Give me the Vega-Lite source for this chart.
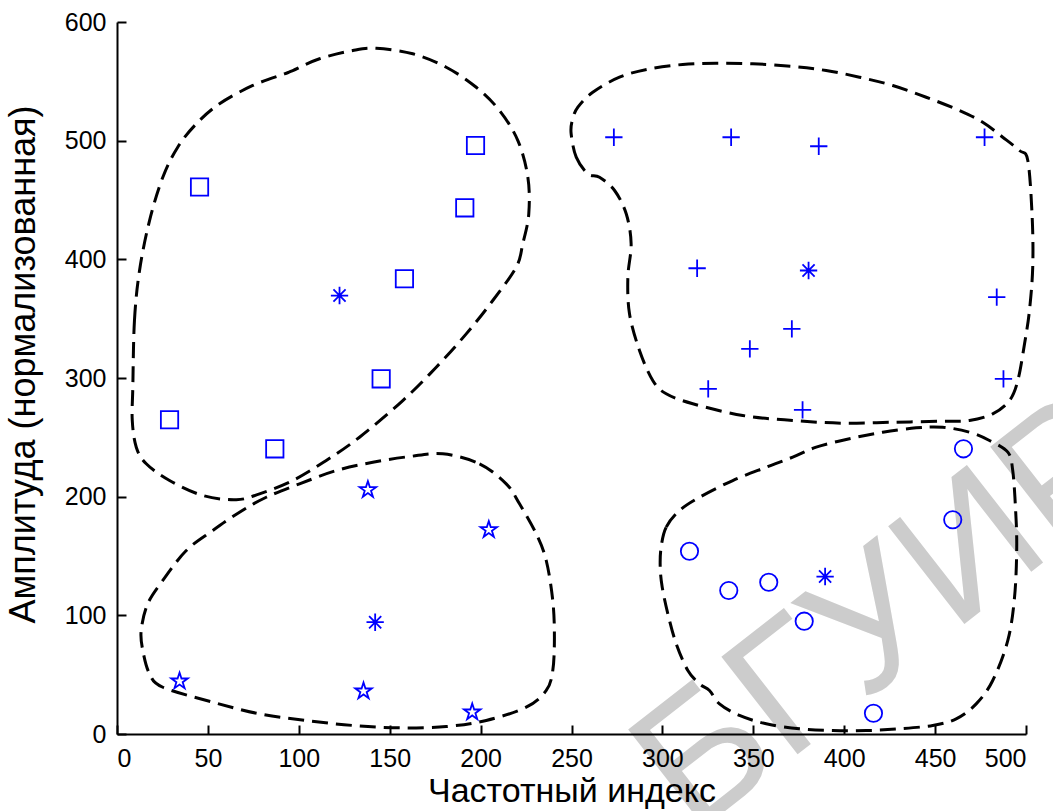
{
  "$schema": "https://vega.github.io/schema/vega-lite/v6.json",
  "autosize": "none",
  "width": 909,
  "height": 712,
  "padding": {"left": 117, "top": 22, "right": 27, "bottom": 77},
  "background": "white",
  "config": {
    "font": "Liberation Sans",
    "view": {"stroke": null},
    "axis": {
      "grid": false,
      "domainColor": "black",
      "domainWidth": 2,
      "tickColor": "black",
      "tickWidth": 2,
      "tickSize": -9,
      "labelColor": "black",
      "labelFontSize": 25,
      "titleColor": "black",
      "titleFontSize": 34,
      "titleFontWeight": "normal"
    }
  },
  "datasets": {
    "points": [
      {"t": "sq", "x": 45.4, "y": 461.0},
      {"t": "sq", "x": 197.2, "y": 495.9},
      {"t": "sq", "x": 191.3, "y": 443.4},
      {"t": "sq", "x": 158.1, "y": 383.6},
      {"t": "sq", "x": 145.3, "y": 299.3},
      {"t": "sq", "x": 28.9, "y": 264.8},
      {"t": "sq", "x": 86.8, "y": 240.3},
      {"t": "c", "x": 122.4, "y": 369.5},
      {"t": "st", "x": 138.0, "y": 205.8},
      {"t": "st", "x": 204.5, "y": 172.1},
      {"t": "st", "x": 34.4, "y": 44.5},
      {"t": "st", "x": 135.6, "y": 36.1},
      {"t": "st", "x": 195.4, "y": 18.4},
      {"t": "c", "x": 142.0, "y": 94.2},
      {"t": "pl", "x": 273.3, "y": 502.9},
      {"t": "pl", "x": 337.8, "y": 502.9},
      {"t": "pl", "x": 386.0, "y": 495.3},
      {"t": "pl", "x": 477.2, "y": 502.9},
      {"t": "pl", "x": 319.1, "y": 392.5},
      {"t": "pl", "x": 483.9, "y": 368.1},
      {"t": "pl", "x": 371.2, "y": 341.4},
      {"t": "pl", "x": 348.1, "y": 324.6},
      {"t": "pl", "x": 325.2, "y": 290.9},
      {"t": "pl", "x": 377.1, "y": 273.2},
      {"t": "pl", "x": 487.6, "y": 299.3},
      {"t": "c", "x": 380.4, "y": 390.6},
      {"t": "ci", "x": 465.6, "y": 240.3},
      {"t": "ci", "x": 459.7, "y": 180.5},
      {"t": "ci", "x": 314.9, "y": 154.0},
      {"t": "ci", "x": 336.5, "y": 120.9},
      {"t": "ci", "x": 358.5, "y": 127.9},
      {"t": "ci", "x": 378.0, "y": 95.1},
      {"t": "ci", "x": 416.1, "y": 17.5},
      {"t": "c", "x": 389.5, "y": 132.7}
    ],
    "contours": [
      {"c": "A", "i": 1, "x": 8.7, "y": 292.2},
      {"c": "A", "i": 2, "x": 9.6, "y": 348.4},
      {"c": "A", "i": 3, "x": 12.4, "y": 390.6},
      {"c": "A", "i": 4, "x": 17.9, "y": 432.7},
      {"c": "A", "i": 5, "x": 25.2, "y": 469.2},
      {"c": "A", "i": 6, "x": 33.4, "y": 494.5},
      {"c": "A", "i": 7, "x": 43.6, "y": 514.2},
      {"c": "A", "i": 8, "x": 56.4, "y": 531.1},
      {"c": "A", "i": 9, "x": 74.7, "y": 546.5},
      {"c": "A", "i": 10, "x": 92.1, "y": 556.3},
      {"c": "A", "i": 11, "x": 96.7, "y": 559.1},
      {"c": "A", "i": 12, "x": 111.4, "y": 569.0},
      {"c": "A", "i": 13, "x": 129.7, "y": 576.0},
      {"c": "A", "i": 14, "x": 142.6, "y": 577.9},
      {"c": "A", "i": 15, "x": 162.7, "y": 573.2},
      {"c": "A", "i": 16, "x": 181.1, "y": 561.9},
      {"c": "A", "i": 17, "x": 197.6, "y": 545.0},
      {"c": "A", "i": 18, "x": 210.4, "y": 525.4},
      {"c": "A", "i": 19, "x": 220.5, "y": 500.1},
      {"c": "A", "i": 20, "x": 226.0, "y": 469.2},
      {"c": "A", "i": 21, "x": 226.5, "y": 438.4},
      {"c": "A", "i": 22, "x": 223.2, "y": 413.1},
      {"c": "A", "i": 23, "x": 219.6, "y": 393.4},
      {"c": "A", "i": 24, "x": 206.7, "y": 365.3},
      {"c": "A", "i": 25, "x": 192.1, "y": 337.2},
      {"c": "A", "i": 26, "x": 175.6, "y": 309.1},
      {"c": "A", "i": 27, "x": 157.2, "y": 281.0},
      {"c": "A", "i": 28, "x": 133.4, "y": 250.1},
      {"c": "A", "i": 29, "x": 115.1, "y": 230.5},
      {"c": "A", "i": 30, "x": 96.7, "y": 213.6},
      {"c": "A", "i": 31, "x": 78.4, "y": 202.4},
      {"c": "A", "i": 32, "x": 65.6, "y": 197.4},
      {"c": "A", "i": 33, "x": 47.2, "y": 201.0},
      {"c": "A", "i": 34, "x": 28.9, "y": 213.6},
      {"c": "A", "i": 35, "x": 16.1, "y": 227.7},
      {"c": "A", "i": 36, "x": 10.6, "y": 241.7},
      {"c": "A", "i": 37, "x": 8.4, "y": 264.2},
      {"c": "B", "i": 1, "x": 179.2, "y": 236.1},
      {"c": "B", "i": 2, "x": 199.4, "y": 227.7},
      {"c": "B", "i": 3, "x": 214.1, "y": 210.8},
      {"c": "B", "i": 4, "x": 221.4, "y": 194.0},
      {"c": "B", "i": 5, "x": 230.6, "y": 168.7},
      {"c": "B", "i": 6, "x": 236.1, "y": 146.2},
      {"c": "B", "i": 7, "x": 239.7, "y": 112.5},
      {"c": "B", "i": 8, "x": 240.6, "y": 81.6},
      {"c": "B", "i": 9, "x": 239.7, "y": 53.5},
      {"c": "B", "i": 10, "x": 236.1, "y": 36.7},
      {"c": "B", "i": 11, "x": 225.1, "y": 22.6},
      {"c": "B", "i": 12, "x": 203.1, "y": 11.4},
      {"c": "B", "i": 13, "x": 181.1, "y": 6.3},
      {"c": "B", "i": 14, "x": 155.4, "y": 5.2},
      {"c": "B", "i": 15, "x": 129.7, "y": 7.2},
      {"c": "B", "i": 16, "x": 104.1, "y": 11.4},
      {"c": "B", "i": 17, "x": 78.4, "y": 17.0},
      {"c": "B", "i": 18, "x": 52.7, "y": 26.8},
      {"c": "B", "i": 19, "x": 25.2, "y": 39.4},
      {"c": "B", "i": 20, "x": 17.9, "y": 50.7},
      {"c": "B", "i": 21, "x": 14.2, "y": 70.4},
      {"c": "B", "i": 22, "x": 13.3, "y": 87.2},
      {"c": "B", "i": 23, "x": 16.9, "y": 109.7},
      {"c": "B", "i": 24, "x": 25.2, "y": 129.4},
      {"c": "B", "i": 25, "x": 38.1, "y": 154.6},
      {"c": "B", "i": 26, "x": 52.7, "y": 171.5},
      {"c": "B", "i": 27, "x": 67.4, "y": 186.9},
      {"c": "B", "i": 28, "x": 82.1, "y": 199.5},
      {"c": "B", "i": 29, "x": 100.4, "y": 210.8},
      {"c": "B", "i": 30, "x": 120.6, "y": 222.0},
      {"c": "B", "i": 31, "x": 140.7, "y": 229.0},
      {"c": "B", "i": 32, "x": 160.9, "y": 233.8},
      {"c": "C", "i": 1, "x": 249.8, "y": 505.8},
      {"c": "C", "i": 2, "x": 252.6, "y": 486.1},
      {"c": "C", "i": 3, "x": 259.0, "y": 472.1},
      {"c": "C", "i": 4, "x": 265.4, "y": 469.2},
      {"c": "C", "i": 5, "x": 273.7, "y": 458.0},
      {"c": "C", "i": 6, "x": 280.1, "y": 438.4},
      {"c": "C", "i": 7, "x": 282.8, "y": 413.1},
      {"c": "C", "i": 8, "x": 281.0, "y": 384.9},
      {"c": "C", "i": 9, "x": 281.9, "y": 354.1},
      {"c": "C", "i": 10, "x": 287.4, "y": 323.2},
      {"c": "C", "i": 11, "x": 294.7, "y": 297.9},
      {"c": "C", "i": 12, "x": 302.1, "y": 286.7},
      {"c": "C", "i": 13, "x": 316.7, "y": 278.3},
      {"c": "C", "i": 14, "x": 344.2, "y": 268.4},
      {"c": "C", "i": 15, "x": 371.7, "y": 264.2},
      {"c": "C", "i": 16, "x": 399.2, "y": 261.9},
      {"c": "C", "i": 17, "x": 426.7, "y": 262.7},
      {"c": "C", "i": 18, "x": 454.2, "y": 263.6},
      {"c": "C", "i": 19, "x": 468.9, "y": 264.2},
      {"c": "C", "i": 20, "x": 481.7, "y": 269.8},
      {"c": "C", "i": 21, "x": 490.9, "y": 281.0},
      {"c": "C", "i": 22, "x": 495.5, "y": 297.9},
      {"c": "C", "i": 23, "x": 499.2, "y": 328.8},
      {"c": "C", "i": 24, "x": 501.9, "y": 356.9},
      {"c": "C", "i": 25, "x": 503.7, "y": 393.4},
      {"c": "C", "i": 26, "x": 503.4, "y": 435.5},
      {"c": "C", "i": 27, "x": 501.0, "y": 483.3},
      {"c": "C", "i": 28, "x": 496.4, "y": 491.7},
      {"c": "C", "i": 29, "x": 487.2, "y": 502.9},
      {"c": "C", "i": 30, "x": 476.2, "y": 515.5},
      {"c": "C", "i": 31, "x": 463.4, "y": 525.4},
      {"c": "C", "i": 32, "x": 445.1, "y": 536.6},
      {"c": "C", "i": 33, "x": 426.7, "y": 546.5},
      {"c": "C", "i": 34, "x": 408.4, "y": 553.5},
      {"c": "C", "i": 35, "x": 390.1, "y": 559.1},
      {"c": "C", "i": 36, "x": 371.7, "y": 562.5},
      {"c": "C", "i": 37, "x": 349.7, "y": 564.8},
      {"c": "C", "i": 38, "x": 329.6, "y": 565.3},
      {"c": "C", "i": 39, "x": 311.2, "y": 564.2},
      {"c": "C", "i": 40, "x": 292.9, "y": 560.5},
      {"c": "C", "i": 41, "x": 276.4, "y": 553.5},
      {"c": "C", "i": 42, "x": 261.7, "y": 540.8},
      {"c": "C", "i": 43, "x": 253.5, "y": 528.2},
      {"c": "C", "i": 44, "x": 250.4, "y": 517.0},
      {"c": "D", "i": 1, "x": 299.3, "y": 157.4},
      {"c": "D", "i": 2, "x": 302.1, "y": 174.3},
      {"c": "D", "i": 3, "x": 309.4, "y": 188.3},
      {"c": "D", "i": 4, "x": 320.4, "y": 199.5},
      {"c": "D", "i": 5, "x": 338.7, "y": 213.6},
      {"c": "D", "i": 6, "x": 357.1, "y": 224.8},
      {"c": "D", "i": 7, "x": 371.7, "y": 233.3},
      {"c": "D", "i": 8, "x": 384.6, "y": 241.7},
      {"c": "D", "i": 9, "x": 402.9, "y": 248.8},
      {"c": "D", "i": 10, "x": 421.2, "y": 254.3},
      {"c": "D", "i": 11, "x": 439.6, "y": 258.0},
      {"c": "D", "i": 12, "x": 454.2, "y": 258.5},
      {"c": "D", "i": 13, "x": 468.9, "y": 254.3},
      {"c": "D", "i": 14, "x": 479.9, "y": 247.3},
      {"c": "D", "i": 15, "x": 490.0, "y": 237.5},
      {"c": "D", "i": 16, "x": 492.7, "y": 222.0},
      {"c": "D", "i": 17, "x": 494.2, "y": 191.1},
      {"c": "D", "i": 18, "x": 494.9, "y": 157.4},
      {"c": "D", "i": 19, "x": 493.7, "y": 115.3},
      {"c": "D", "i": 20, "x": 490.0, "y": 78.8},
      {"c": "D", "i": 21, "x": 481.7, "y": 45.1},
      {"c": "D", "i": 22, "x": 472.6, "y": 25.4},
      {"c": "D", "i": 23, "x": 461.6, "y": 12.8},
      {"c": "D", "i": 24, "x": 448.7, "y": 7.2},
      {"c": "D", "i": 25, "x": 430.4, "y": 4.4},
      {"c": "D", "i": 26, "x": 412.1, "y": 2.9},
      {"c": "D", "i": 27, "x": 393.7, "y": 2.9},
      {"c": "D", "i": 28, "x": 375.4, "y": 4.4},
      {"c": "D", "i": 29, "x": 357.1, "y": 8.6},
      {"c": "D", "i": 30, "x": 342.4, "y": 15.6},
      {"c": "D", "i": 31, "x": 331.4, "y": 25.4},
      {"c": "D", "i": 32, "x": 325.9, "y": 36.7},
      {"c": "D", "i": 33, "x": 320.4, "y": 42.3},
      {"c": "D", "i": 34, "x": 314.0, "y": 53.5},
      {"c": "D", "i": 35, "x": 307.6, "y": 76.0},
      {"c": "D", "i": 36, "x": 303.0, "y": 101.3},
      {"c": "D", "i": 37, "x": 299.9, "y": 123.7},
      {"c": "D", "i": 38, "x": 298.8, "y": 140.6}
    ],
    "watermark": [
      {"x": 424, "y": 100, "label": "БГУИР"}
    ]
  },
  "layer": [
    {
      "data": {"name": "watermark"},
      "mark": {"type": "text", "font": "Liberation Sans", "fontSize": 180, "color": "#cccccc", "angle": -38, "align": "center", "baseline": "middle", "zindex": 0},
      "encoding": {
        "x": {"field": "x", "type": "quantitative", "scale": {"domain": [0, 500], "nice": false, "zero": false},
          "axis": {"zindex": 2, "values": [0, 50, 100, 150, 200, 250, 300, 350, 400, 450, 500], "title": "Частотный индекс", "labelPadding": 21, "titleBaseline": "alphabetic", "titleY": 67}},
        "y": {"field": "y", "type": "quantitative", "scale": {"domain": [0, 600], "nice": false, "zero": false},
          "axis": {"zindex": 2, "values": [0, 100, 200, 300, 400, 500, 600], "title": "Амплитуда (нормализованная)", "labelPadding": 20, "titleFontSize": 36, "titleBaseline": "alphabetic", "titleX": -83, "titleY": 342}},
        "text": {"field": "label"}
      }
    },
    {
      "data": {"name": "contours"},
      "mark": {"type": "line", "interpolate": "cardinal-closed", "color": "black", "strokeWidth": 3, "strokeDash": [16, 8], "zindex": 3},
      "encoding": {
        "x": {"field": "x", "type": "quantitative"},
        "y": {"field": "y", "type": "quantitative"},
        "detail": {"field": "c"},
        "order": {"field": "i", "type": "quantitative"}
      }
    },
    {
      "data": {"name": "points"},
      "mark": {"type": "point", "filled": false, "stroke": "#0000ff", "strokeWidth": 1.8, "size": 300, "opacity": 1, "zindex": 4},
      "encoding": {
        "x": {"field": "x", "type": "quantitative"},
        "y": {"field": "y", "type": "quantitative"},
        "shape": {"field": "t", "type": "nominal", "legend": null,
          "scale": {"domain": ["sq", "st", "pl", "ci", "c"],
            "range": ["square",
              "M0,-1L0.225,-0.309L0.951,-0.309L0.363,0.118L0.588,0.809L0,0.382L-0.588,0.809L-0.363,0.118L-0.951,-0.309L-0.225,-0.309Z",
              "M-1,0H1M0,-1V1",
              "circle",
              "M-1,0H1M0,-1V1M-0.7,-0.7L0.7,0.7M-0.7,0.7L0.7,-0.7"]}}
      }
    }
  ]
}
